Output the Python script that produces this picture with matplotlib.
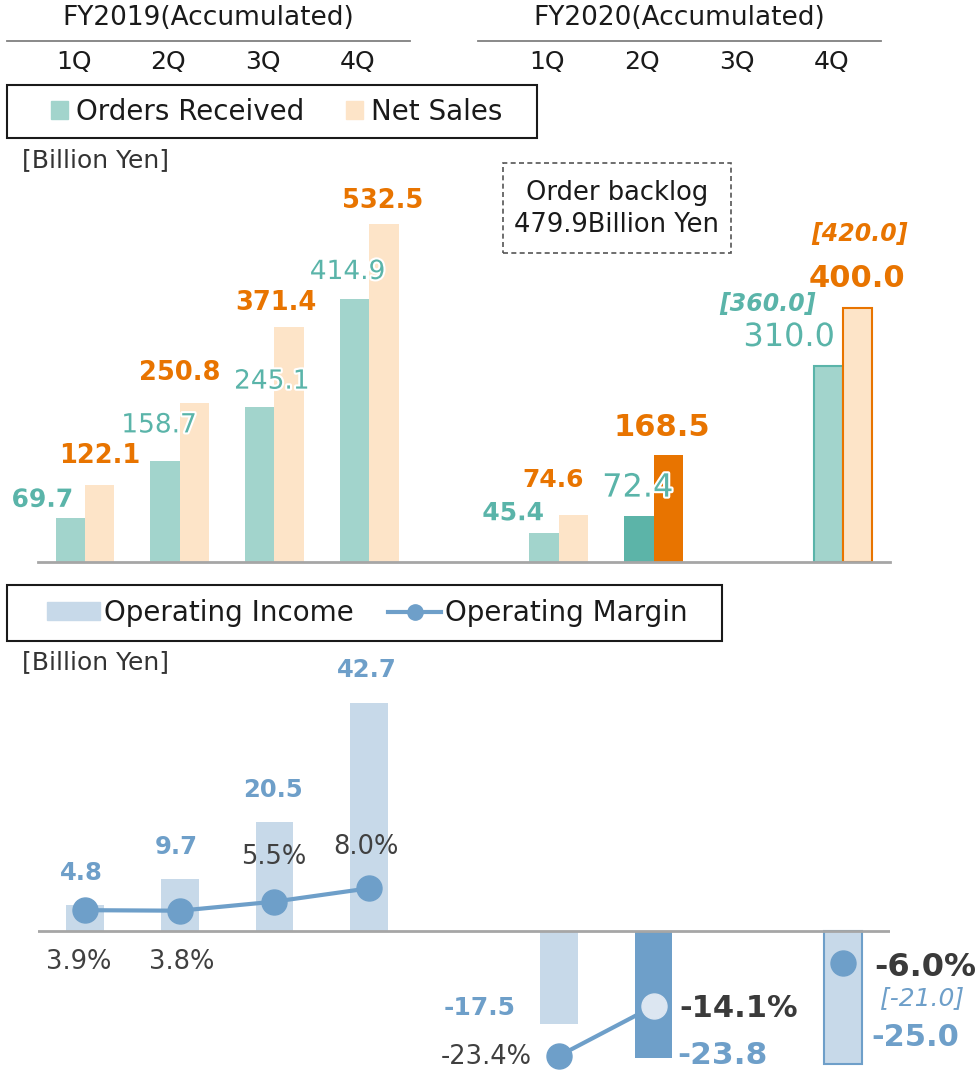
import numpy as np
import matplotlib.pyplot as plt
from matplotlib.patches import Rectangle, Patch
from matplotlib.lines import Line2D
import matplotlib.patheffects as pe
import matplotlib.transforms as mtransforms

plt.rcParams['font.family'] = ['DejaVu Sans']

# data (index 4 is the gap between the two fiscal years)
quarters = ['1Q', '2Q', '3Q', '4Q', '', '1Q', '2Q', '3Q', '4Q']
years = ['FY2019(Accumulated)', 'FY2020(Accumulated)']
orders = [69.7, 158.7, 245.1, 414.9, np.nan, 45.4, 72.4, np.nan, 310.0]
sales = [122.1, 250.8, 371.4, 532.5, np.nan, 74.6, 168.5, np.nan, 400.0]
orders_fc = 360.0
sales_fc = 420.0
backlog = 479.9
op_income = [4.8, 9.7, 20.5, 42.7, np.nan, -17.5, -23.8, np.nan, -25.0]
op_margin = [3.9, 3.8, 5.5, 8.0, np.nan, -23.4, -14.1, np.nan, -6.0]
op_income_fc = -21.0

# colours
TEAL_L = '#A2D4CC'
TEAL_D = '#5CB4A8'
TEAL_T = '#5AB4A9'
PEACH = '#FDE4C8'
ORANGE = '#E87400'
BLUE_L = '#C7D9E9'
BLUE_D = '#6E9FC9'
GRAY_T = '#404040'
AXIS = '#A6A6A6'

W, H = 977, 1070
fig = plt.figure(figsize=(W / 100, H / 100), dpi=100)


def fx(px):
    return px / W


def fy(py):
    return 1 - py / H


x = np.arange(len(quarters))
white = [pe.withStroke(linewidth=3, foreground='white')]


def label(ax, xv, yv, txt, off, **kw):
    ax.annotate(txt, (xv, yv), xytext=off, textcoords='offset pixels',
                ha='center', va='center', annotation_clip=False, **kw)


# ---------------- top chart: orders / net sales ----------------
ax1 = fig.add_axes([fx(37.6), fy(562), fx(852.8), 412 / H])
bw = 0.31
or_col = [TEAL_L] * 9
or_col[6] = TEAL_D
sa_col = [PEACH] * 9
sa_col[6] = ORANGE
or_edge = ['none'] * 9
or_edge[8] = TEAL_T
sa_edge = ['none'] * 9
sa_edge[8] = ORANGE
ax1.bar(x - bw / 2, orders, bw, color=or_col, edgecolor=or_edge, linewidth=1.5)
ax1.bar(x + bw / 2, sales, bw, color=sa_col, edgecolor=sa_edge, linewidth=1.5)
ax1.set_xlim(-0.5, 8.5)
ax1.set_ylim(0, 650)
for s in ['left', 'right', 'top']:
    ax1.spines[s].set_visible(False)
ax1.spines['bottom'].set_color(AXIS)
ax1.spines['bottom'].set_linewidth(2)
ax1.set_xticks([])
ax1.set_yticks([])

or_off = [(-28, 18), (-6, 36), (12, 25), (-7, 27), None, (-31, 20), (-1, 28), None, (-39, 28)]
or_bold = [True, False, False, False, None, True, False, None, False]
or_size = [18, 19, 19, 19, None, 18, 23, None, 23]
sa_off = [(0, 29), (-15, 30), (-13, 24), (-1, 23), None, (-20, 35), (-6, 28), None, (-1, 30)]
sa_size = [18.5, 18.5, 18.5, 18.5, None, 18, 22, None, 22]
for i in x:
    if np.isnan(orders[i]):
        continue
    label(ax1, i - bw / 2, orders[i], f'{orders[i]:.1f}', or_off[i], color=TEAL_T,
          fontsize=or_size[i], fontweight='bold' if or_bold[i] else 'normal',
          path_effects=white)
    label(ax1, i + bw / 2, sales[i], f'{sales[i]:.1f}', sa_off[i], color=ORANGE,
          fontsize=sa_size[i], fontweight='bold')
label(ax1, 8 - bw / 2, orders[8], f'[{orders_fc:.1f}]', (-61, 62), color=TEAL_T,
      fontsize=17, fontweight='bold', fontstyle='italic')
label(ax1, 8 + bw / 2, sales[8], f'[{sales_fc:.1f}]', (2, 74), color=ORANGE,
      fontsize=17, fontweight='bold', fontstyle='italic')

# header
for cx, t in zip([208, 679], years):
    fig.text(fx(cx), fy(18), t, ha='center', va='center', fontsize=19, color='#1a1a1a')
for x0, x1 in [(7, 410), (478, 881)]:
    fig.add_artist(Line2D([fx(x0), fx(x1)], [fy(41), fy(41)], color='#808080', lw=1.3))
tr = mtransforms.blended_transform_factory(ax1.transData, fig.transFigure)
for i, q in enumerate(quarters):
    if q:
        fig.text(i - 0.12, fy(62), q, transform=tr, ha='center', va='center',
                 fontsize=18, color='#1a1a1a')

# legend 1
fig.add_artist(Rectangle((fx(7), fy(138)), fx(530), 53 / H, transform=fig.transFigure,
                         fill=False, ec='#1a1a1a', lw=1.5))
fig.legend([Patch(color=TEAL_L), Patch(color=PEACH)], ['Orders Received', 'Net Sales'],
           loc='center', bbox_to_anchor=(fx(277), fy(111.5)), ncol=2, frameon=False,
           fontsize=20, handlelength=0.6, handleheight=0.6, handletextpad=0.3,
           columnspacing=1.5, labelcolor='#1a1a1a')
fig.text(fx(22), fy(160), '[Billion Yen]', ha='left', va='center', fontsize=18, color='#333333')

# backlog box
fig.add_artist(Rectangle((fx(503), fy(253)), fx(228), 90 / H, transform=fig.transFigure,
                         fill=False, ec='#555555', lw=1.2, ls=(0, (3, 2))))
fig.text(fx(617), fy(193), 'Order backlog', ha='center', va='center', fontsize=18.5, color='#1a1a1a')
fig.text(fx(617), fy(225), f'{backlog}Billion Yen', ha='center', va='center', fontsize=18.5,
         color='#1a1a1a')

# ---------------- bottom chart: operating income / margin ----------------
ax2 = fig.add_axes([fx(37.6), 0, fx(852.8), 420 / H])
inc_col = [BLUE_L] * 9
inc_col[6] = BLUE_D
inc_edge = ['none'] * 9
inc_edge[8] = BLUE_D
ax2.bar(x, op_income, 0.40, color=inc_col, edgecolor=inc_edge, linewidth=1.5)
ax2.axhline(0, color=AXIS, lw=2)
ylim2 = (-26.03, 52.62)
ax2.set_xlim(-0.5, 8.5)
ax2.set_ylim(*ylim2)
ax3 = ax2.twinx()
ax3.set_ylim(*ylim2)
ax3.plot(x, op_margin, color=BLUE_D, lw=3, marker='o', ms=18, zorder=3)
ax3.plot(x[6], op_margin[6], 'o', ms=18, mfc='#DCE6F1', mec='#DCE6F1', zorder=4)
for a in (ax2, ax3):
    for s in a.spines.values():
        s.set_visible(False)
    a.set_xticks([])
    a.set_yticks([])

inc_off = [(-4, 32), (-3, 32), (-1, 31.5), (-2, 33), None, (-79, 16.5), (69, 3), None, (72, 26.5)]
inc_size = [17.5, 17.5, 17.5, 17.5, None, 18, 22.5, None, 22]
mar_off = [(-6, -52), (2, -51), (-1, 45), (-3, 41), None, (-73, -1), (85, -2), None, (82, -4)]
mar_size = [18.5, 18.5, 18.5, 18.5, None, 18.5, 22, None, 23]
mar_big = [False, False, False, False, None, False, True, None, True]
for i in x:
    if np.isnan(op_income[i]):
        continue
    label(ax2, i, op_income[i], f'{op_income[i]:.1f}', inc_off[i], color=BLUE_D,
          fontsize=inc_size[i], fontweight='bold')
    if mar_big[i]:
        label(ax3, i, op_margin[i], f'{op_margin[i]:.1f}%', mar_off[i], color='#3a3a3a',
              fontsize=mar_size[i], fontweight='bold')
    else:
        label(ax3, i, op_margin[i], f'{op_margin[i]:.1f}%', mar_off[i], color=GRAY_T,
              fontsize=mar_size[i])
label(ax2, 8, op_income[8], f'[{op_income_fc:.1f}]', (79, 66.5), color=BLUE_D,
      fontsize=18, fontstyle='italic')

# legend 2
fig.add_artist(Rectangle((fx(7), fy(641)), fx(715), 56 / H, transform=fig.transFigure,
                         fill=False, ec='#1a1a1a', lw=1.5))
fig.legend([Patch(color=BLUE_L),
            Line2D([], [], color=BLUE_D, lw=3, marker='o', ms=11)],
           ['Operating Income', 'Operating Margin'],
           loc='center', bbox_to_anchor=(fx(367.5), fy(613)), ncol=2, frameon=False,
           fontsize=20, handlelength=1.9, handleheight=0.6, handletextpad=0.15,
           columnspacing=1.25, labelcolor='#1a1a1a')
fig.text(fx(22), fy(662), '[Billion Yen]', ha='left', va='center', fontsize=18, color='#333333')

fig.savefig('out.png', dpi=100)
